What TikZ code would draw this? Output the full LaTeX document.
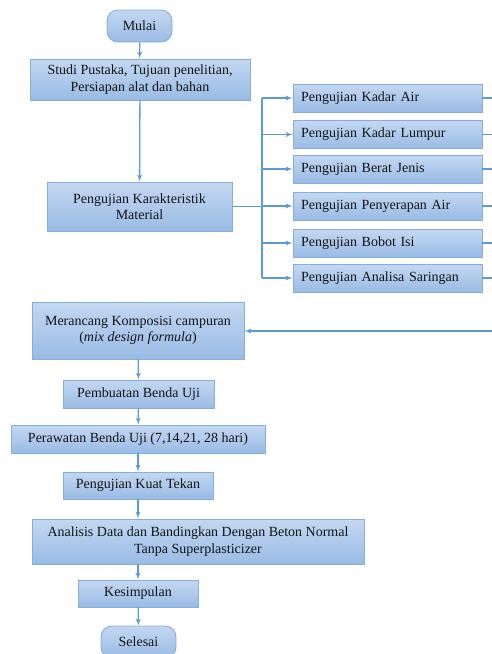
\documentclass[tikz,border=0pt]{standalone}
\usepackage{fontspec}
\setmainfont{Liberation Serif}
\usepackage{tikz}
\usetikzlibrary{arrows,positioning}
\definecolor{boxtop}{HTML}{C3D8F1}
\definecolor{boxbot}{HTML}{99BBE5}
\definecolor{boxline}{HTML}{86ADDD}
\definecolor{flowline}{HTML}{5B9BD5}
\definecolor{txt}{HTML}{141414}

\begin{document}
\begin{tikzpicture}[x=1pt,y=-1pt,->,>=latex',
    font=\fontsize{14}{16.5}\selectfont,
    box/.style={draw=boxline,line width=0.9pt,top color=boxtop,bottom color=boxbot,text=txt,align=center,inner sep=1pt},
    term/.style={box,rounded corners=11pt},
    test/.style={box,minimum height=28,text width=173,align=left,inner xsep=8pt},
    flow/.style={draw=flowline,line width=1.3pt}]

  \useasboundingbox (0,0) rectangle (492,654);

  % Main column
  \node[term,minimum width=65,minimum height=32] (mulai) at (139.5,26) {Mulai};
  \node[box,minimum width=220,minimum height=41] (studi) at (140,79.5) {Studi Pustaka, Tujuan penelitian,\\Persiapan alat dan bahan};
  \node[box,minimum width=185,minimum height=49] (karakter) at (139.5,206.5) {Pengujian Karakteristik\\Material};

  % Material tests
  \foreach \name/\txt/\y in {kadarair/Pengujian Kadar Air/98,
                             lumpur/Pengujian Kadar Lumpur/134.5,
                             berat/Pengujian Berat Jenis/169,
                             serap/Pengujian Penyerapan Air/206,
                             bobot/Pengujian Bobot Isi/243,
                             saring/Pengujian Analisa Saringan/278}{
    \node[test] (\name) at (387.5,\y) {\txt};
    \coordinate (\name-out) at (492,\y);
    \draw[flow,-] (\name.east) -- (\name-out);
  }

  \coordinate (bus) at (262,206.5);
  \draw[flow,-] (karakter.east) -- (bus);
  \draw[flow,-] (kadarair.west -| bus) -- (saring.west -| bus);
  \foreach \name in {kadarair,lumpur,berat,serap,bobot,saring}
    \draw[flow] (\name.west -| bus) -- (\name.west);

  \node[box,minimum width=212,minimum height=57] (merancang) at (138,330.5) {Merancang Komposisi campuran\\(\textit{mix design formula})};
  \coordinate (balik) at (492,331);
  \draw[flow] (balik) -- (balik -| merancang.east);

  \node[box,minimum width=151,minimum height=28] (buat) at (138.5,394) {Pembuatan Benda Uji};
  \node[box,minimum width=254,minimum height=28] (rawat) at (138,439) {Perawatan Benda Uji (7,14,21, 28 hari)};
  \node[box,minimum width=150,minimum height=27] (kuat) at (138,485.5) {Pengujian Kuat Tekan};
  \node[box,minimum width=332,minimum height=45] (analisis) at (198,541.5) {Analisis Data dan Bandingkan Dengan Beton Normal\\Tanpa Superplasticizer};
  \node[box,minimum width=120,minimum height=27] (simpul) at (138,593.5) {Kesimpulan};
  \node[term,minimum width=75,minimum height=32] (selesai) at (138.5,642) {Selesai};

  % Arrows
  \draw[flow] (mulai) -- (studi);
  \draw[flow] (studi) -- (karakter);
  \draw[flow] (merancang) -- (buat);
  \draw[flow] (buat) -- (rawat);
  \draw[flow] (rawat) -- (kuat);
  \draw[flow] (kuat.south) -- (kuat.south |- analisis.north);
  \draw[flow] (simpul.north |- analisis.south) -- (simpul.north);
  \draw[flow] (simpul) -- (selesai);
\end{tikzpicture}
\end{document}
